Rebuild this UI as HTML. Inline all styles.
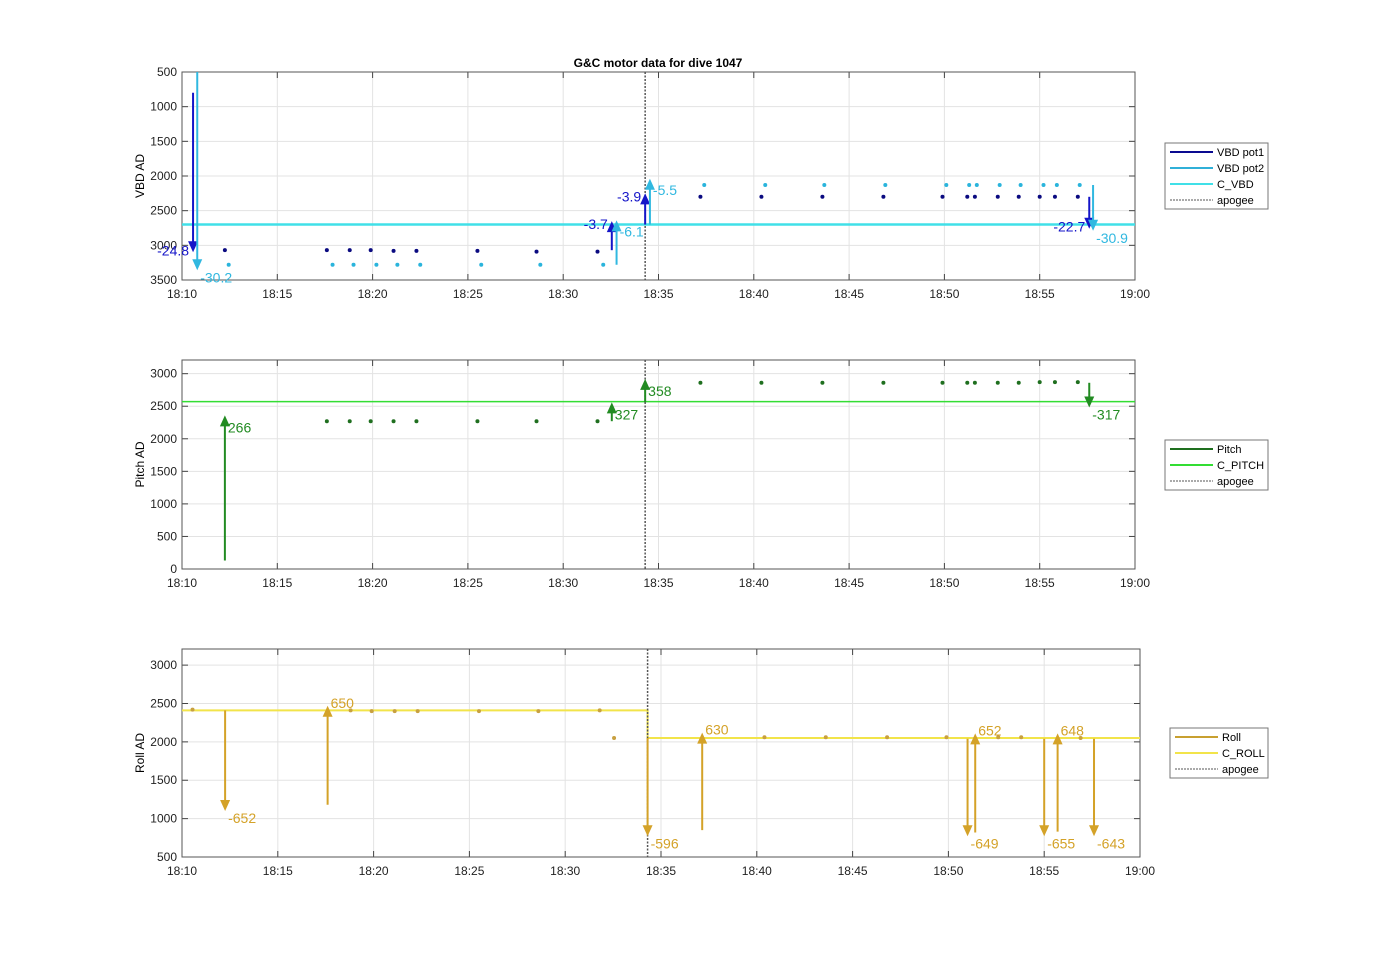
<!DOCTYPE html>
<html><head><meta charset="utf-8"><style>
body{margin:0;background:#fff;}
svg{display:block;font-family:"Liberation Sans",Arial,sans-serif;}
</style></head><body>
<svg id="fig" width="1400" height="964" viewBox="0 0 1400 964" xmlns="http://www.w3.org/2000/svg">
<text x="658" y="67" text-anchor="middle" font-size="12" font-weight="bold" fill="#000">G&amp;C motor data for dive 1047</text>
</svg>
<script>
// ---- data (times in minutes after 18:10) ----
const xTickLabels = ["18:10","18:15","18:20","18:25","18:30","18:35","18:40","18:45","18:50","18:55","19:00"];
const apogeeT = 24.3;
// VBD panel
const vbdTicks = [500,1000,1500,2000,2500,3000,3500];
const pot1T = [2.25,7.6,8.8,9.9,11.1,12.3,15.5,18.6,21.8,27.2,30.4,33.6,36.8,39.9,41.2,41.6,42.8,43.9,45.0,45.8,47.0];
const pot1V = [3070,3070,3070,3070,3080,3080,3080,3090,3090,2300,2300,2300,2300,2300,2300,2300,2300,2300,2300,2300,2300];
const pot2T = [2.45,7.9,9.0,10.2,11.3,12.5,15.7,18.8,22.1,27.4,30.6,33.7,36.9,40.1,41.3,41.7,42.9,44.0,45.2,45.9,47.1];
const pot2V = [3280,3280,3280,3280,3280,3280,3280,3280,3280,2130,2130,2130,2130,2130,2130,2130,2130,2130,2130,2130,2130];
const cVBD = 2700;
const pot1ArrT = [0.58,22.55,24.3,47.6];
const pot1ArrFrom = [800,3070,2700,2300];
const pot1ArrTo = [3100,2650,2250,2760];
const pot1ArrLbl = ["-24.8","-3.7","-3.9","-22.7"];
const pot2ArrT = [0.8,22.8,24.55,47.8];
const pot2ArrFrom = [500,3280,2700,2130];
const pot2ArrTo = [3360,2640,2040,2790];
const pot2ArrLbl = ["-30.2","-6.1","-5.5","-30.9"];
// Pitch panel
const pitchTicks = [0,500,1000,1500,2000,2500,3000];
const pitchT = [7.6,8.8,9.9,11.1,12.3,15.5,18.6,21.8,27.2,30.4,33.6,36.8,39.9,41.2,41.6,42.8,43.9,45.0,45.8,47.0];
const pitchV = [2270,2270,2270,2270,2270,2270,2270,2270,2860,2860,2860,2860,2860,2860,2860,2860,2860,2870,2870,2870];
const cPitch = 2570;
const pitchArrT = [2.25,22.55,24.3,47.6];
const pitchArrFrom = [130,2270,2560,2860];
const pitchArrTo = [2360,2560,2920,2480];
const pitchArrLbl = ["266","327","358","-317"];
// Roll panel
const rollTicks = [500,1000,1500,2000,2500,3000];
const rollT = [0.55,8.8,9.9,11.1,12.3,15.5,18.6,21.8,22.55,30.4,33.6,36.8,39.9,42.6,43.8,46.9];
const rollV = [2420,2410,2400,2400,2400,2400,2400,2410,2050,2060,2060,2060,2060,2060,2060,2050];
const cRollT = [0,24.3,24.3,50];
const cRollV = [2410,2410,2050,2050];
const rollArrT = [2.25,7.6,24.3,27.15,41.0,41.4,45.0,45.7,47.6];
const rollArrFrom = [2410,1180,2050,850,2040,820,2040,830,2040];
const rollArrTo = [1100,2470,770,2120,770,2110,770,2110,770];
const rollArrLbl = ["-652","650","-596","630","-649","652","-655","648","-643"];

// ---- rendering ----
const NS="http://www.w3.org/2000/svg";
const svg=document.getElementById('fig');
function mk(tag,attrs,parent){const e=document.createElementNS(NS,tag);for(const k in attrs)e.setAttribute(k,attrs[k]);(parent||svg).appendChild(e);return e;}
function panel(cfg){
  const {x0,x1,y0,y1,vmin,vmax,rev,ticks,ylabel,name}=cfg;
  const g=mk('g',{});
  
  
  const sx=t=>x0+(x1-x0)*t/50;
  const sy=v=>rev? y0+(y1-y0)*(v-vmin)/(vmax-vmin) : y1-(y1-y0)*(v-vmin)/(vmax-vmin);
  mk('rect',{x:x0,y:y0,width:x1-x0,height:y1-y0,fill:'#fff'},g);
  xTickLabels.forEach((l,i)=>{const x=sx(i*5);
    mk('line',{x1:x,x2:x,y1:y0,y2:y1,stroke:'#e3e3e3','stroke-width':1},g);
    mk('line',{x1:x,x2:x,y1:y1,y2:y1-6,stroke:'#444'},g);
    mk('line',{x1:x,x2:x,y1:y0,y2:y0+6,stroke:'#444'},g);
    const t=mk('text',{x:x,y:y1+18,'text-anchor':'middle','font-size':12,fill:'#222'},g);t.textContent=l;
    
    });
  ticks.forEach(v=>{const y=sy(v);
    mk('line',{x1:x0,x2:x1,y1:y,y2:y,stroke:'#e3e3e3'},g);
    mk('line',{x1:x0,x2:x0+6,y1:y,y2:y,stroke:'#444'},g);
    mk('line',{x1:x1,x2:x1-6,y1:y,y2:y,stroke:'#444'},g);
    const t=mk('text',{x:x0-5,y:y+4,'text-anchor':'end','font-size':12,fill:'#222'},g);t.textContent=v;
    
    });
  mk('rect',{x:x0,y:y0,width:x1-x0,height:y1-y0,fill:'none',stroke:'#555','stroke-width':1},g);
  const yl=mk('text',{x:0,y:0,transform:`translate(${x0-38},${(y0+y1)/2}) rotate(-90)`,'text-anchor':'middle','font-size':12,fill:'#000'},g);yl.textContent=ylabel;
  
  
  return {g,sx,sy,x0,x1,y0,y1};
}
function dots(p,T,V,color,nm){T.forEach((t,i)=>{const c=mk('circle',{cx:p.sx(t),cy:p.sy(V[i]),r:2,fill:color},p.g);
  
  });}
function arrows(p,T,F,To,L,color,w,nm,leftLbl,upOff){
  T.forEach((t,i)=>{const x=p.sx(t);let ya=p.sy(F[i]),yb=p.sy(To[i]);
    ya=Math.max(p.y0,Math.min(p.y1,ya));
    const dir=yb>ya?1:-1;
    const l=mk('line',{x1:x,x2:x,y1:ya,y2:yb-dir*9,stroke:color,'stroke-width':w},p.g);
    
    
    mk('polygon',{points:`${x-5},${yb-dir*11} ${x+5},${yb-dir*11} ${x},${yb}`,fill:color},p.g);
    const left=leftLbl&&leftLbl[i];
    const tx=left? x-4 : x+3;
    const ty=dir>0? yb+12 : yb+upOff;
    const tt=mk('text',{x:tx,y:left?yb+ (dir>0?3:8):ty,'text-anchor':left?'end':'start','font-size':14,fill:color},p.g);tt.textContent=L[i];
    
    });
}
function legend(x,y,w,items,nm){
  const g=mk('g',{});
  
  
  const h=items.length*16+2;
  mk('rect',{x:x,y:y,width:w,height:h,fill:'#fff',stroke:'#777'},g);
  items.forEach((it,i)=>{const yy=y+9+i*16;
    mk('line',{x1:x+5,x2:x+48,y1:yy,y2:yy,stroke:it[1],'stroke-width':it[2],'stroke-dasharray':it[3]||''},g);
    const t=mk('text',{x:x+52,y:yy+4,'font-size':11,fill:'#000'},g);t.textContent=it[0];
    
    });
}
// Panel 1
const p1=panel({x0:182,x1:1135,y0:72,y1:280,vmin:500,vmax:3500,rev:true,ticks:vbdTicks,ylabel:'VBD AD',name:'vbd'});
mk('line',{x1:p1.x0,x2:p1.x1,y1:p1.sy(cVBD),y2:p1.sy(cVBD),stroke:'#40e0e8','stroke-width':2.5},p1.g);
mk('line',{x1:p1.sx(apogeeT),x2:p1.sx(apogeeT),y1:p1.y0,y2:p1.y1,stroke:'#555','stroke-width':1.5,'stroke-dasharray':'2,1.5'},p1.g);
dots(p1,pot1T,pot1V,'#0a0a80','vbd-pot1-point');
dots(p1,pot2T,pot2V,'#2ab4dc','vbd-pot2-point');
arrows(p1,pot1ArrT,pot1ArrFrom,pot1ArrTo,pot1ArrLbl,'#1515c8',2,'vbd-pot1',[true,true,true,true],16);
arrows(p1,pot2ArrT,pot2ArrFrom,pot2ArrTo,pot2ArrLbl,'#30b8e0',2,'vbd-pot2',[false,false,false,false],16);
legend(1165,143,103,[['VBD pot1','#0a0a90',2],['VBD pot2','#30b0d8',2],['C_VBD','#40e0e8',2],['apogee','#555',1,'2,1']],'vbd-legend');
// Panel 2
const p2=panel({x0:182,x1:1135,y0:360,y1:569,vmin:0,vmax:3210,rev:false,ticks:pitchTicks,ylabel:'Pitch AD',name:'pitch'});
mk('line',{x1:p2.x0,x2:p2.x1,y1:p2.sy(cPitch),y2:p2.sy(cPitch),stroke:'#33dd33','stroke-width':1.5},p2.g);
mk('line',{x1:p2.sx(apogeeT),x2:p2.sx(apogeeT),y1:p2.y0,y2:p2.y1,stroke:'#555','stroke-width':1.5,'stroke-dasharray':'2,1.5'},p2.g);
dots(p2,pitchT,pitchV,'#1f6f1f','pitch-point');
arrows(p2,pitchArrT,pitchArrFrom,pitchArrTo,pitchArrLbl,'#228b22',2,'pitch',null,17);
legend(1165,440,103,[['Pitch','#1f6f1f',2],['C_PITCH','#33dd33',2],['apogee','#555',1,'2,1']],'pitch-legend');
// Panel 3
const p3=panel({x0:182,x1:1140,y0:649,y1:857,vmin:500,vmax:3210,rev:false,ticks:rollTicks,ylabel:'Roll AD',name:'roll'});
mk('polyline',{points:cRollT.map((t,i)=>p3.sx(t)+','+p3.sy(cRollV[i])).join(' '),fill:'none',stroke:'#f2e44a','stroke-width':2},p3.g);
mk('line',{x1:p3.sx(apogeeT),x2:p3.sx(apogeeT),y1:p3.y0,y2:p3.y1,stroke:'#555','stroke-width':1.5,'stroke-dasharray':'2,1.5'},p3.g);
dots(p3,rollT,rollV,'#c8a040','roll-point');
arrows(p3,rollArrT,rollArrFrom,rollArrTo,rollArrLbl,'#d4a228',2,'roll',null,2);
legend(1170,728,98,[['Roll','#c8a030',2],['C_ROLL','#f2e44a',2],['apogee','#555',1,'2,1']],'roll-legend');
</script>
</body></html>
